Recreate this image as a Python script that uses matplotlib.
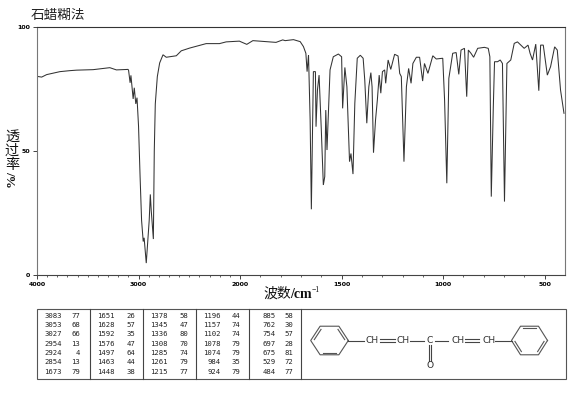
import numpy as np
import matplotlib
matplotlib.use("Agg")
import matplotlib.pyplot as plt
from matplotlib.patches import Rectangle

CJK = ["Noto Sans CJK SC", "DejaVu Sans"]

title = "石蜡糊法"
y_chars = ["透", "过", "率"]
x_ticks = [4000, 3000, 2000, 1500, 1000, 500]
y_ticks = [0, 50, 100]

wavenumber = [4000,3954,3905,3774,3676,3610,3447,3283,3218,3103,3098,3083,3075,3053,3042,3027,3015,3000,2985,2970,
 2954,2945,2924,2908,2895,2884,2875,2854,2845,2835,2815,2792,2759,2727,2628,2579,2497,2399,2334,2203,2137,2007,
 1967,1937,1872,1823,1790,1778,1737,1704,1688,1676,1670,1663,1655,1649,1639,1629,1626,1619,1611,1600,1590,1583,
 1578,1572,1557,1541,1516,1500,1495,1484,1474,1461,1454,1444,1435,1423,1408,1394,1386,1376,1366,1356,1350,1343,
 1333,1324,1315,1307,1299,1288,1283,1271,1258,1239,1222,1214,1206,1193,1181,1170,1158,1149,1132,1116,1101,1092,
 1075,1051,1034,1002,993,982,972,953,936,923,912,895,884,876,863,850,830,797,778,770,763,753,747,732,719,708,698,
 686,667,650,634,601,582,572,560,544,529,520,507,487,471,451,438,422,405]
transmittance = [80.1,79.8,80.8,82,82.4,82.6,82.8,83.6,82.7,82.9,82.5,77.5,80.5,71,75.5,69,71.5,60,40,22,
 13.5,15,4.8,14,22,32.5,26,14.5,50,69,80,85.5,88.8,87.8,88.4,90.4,91.5,92.6,93.3,93.3,94,94.3,
 93,94.5,94.1,93.8,94.8,94.5,94.9,94.1,92.1,89.4,82,88.7,62.5,26.5,82,82,59.8,74.6,80.6,58.5,36.3,39.7,
 66.5,50.4,82.7,88,89.1,88,67.2,83.7,75.9,45.7,49,40.7,69.2,87.4,88.6,87.4,78.6,61.2,75.9,81.6,75.9,49.3,
 62.5,70.6,80.6,73.3,82,82.7,77.3,86.7,82.9,89,88.3,81.3,80,45.7,75.9,83.3,77.3,85.3,87.8,87.8,78.2,85.3,
 81.3,88.4,87.1,87.4,70.6,37,79.3,89.4,89.7,80.9,90.7,91.4,71.9,90.7,89.4,87.8,91.4,91.8,91.4,88,31.6,67.9,86,86,86.7,85.3,29.6,
 85.3,86.7,93.4,94,91.4,92.7,89.4,86.7,93.1,74.3,92.7,92.7,80.6,84,92,90.7,74.6,65.2]

peak_wn = [[3083,3053,3027,2954,2924,2854,1673],
           [1651,1628,1592,1576,1497,1463,1448],
           [1378,1345,1336,1308,1285,1261,1215],
           [1196,1157,1102,1078,1074,984,924],
           [885,762,754,697,675,529,484]]
peak_t = [[77,68,66,13,4,13,79],
          [26,57,35,47,64,44,38],
          [58,47,80,70,74,79,77],
          [44,74,74,79,79,35,79],
          [58,30,57,28,81,72,77]]

W, H = 570, 394
fig = plt.figure(figsize=(W/100, H/100), dpi=100)
ax = fig.add_axes([37/W, 1-275/H, 528/W, 248/H])

def fwd(x):
    x = np.asarray(x, dtype=float)
    return np.where(x > 2000, 2000 + (x-2000)/2, x)
def inv(v):
    v = np.asarray(v, dtype=float)
    return np.where(v > 2000, 2000 + (v-2000)*2, v)
ax.set_xscale("function", functions=(fwd, inv))
ax.plot(wavenumber, transmittance, color="#333333", lw=0.75, solid_joinstyle="miter")
ax.set_xlim(4000, 400)
ax.set_ylim(0, 100)
ax.set_xticks(x_ticks)
ax.set_xticks(list(range(3900, 400, -100)), minor=True)
ax.set_yticks(y_ticks)
ax.tick_params(axis="both", which="major", length=3, width=0.6, labelsize=4.5, pad=2, color="#222222")
ax.tick_params(axis="x", which="minor", length=1.5, width=0.5, color="#222222")
for lab in ax.get_xticklabels()+ax.get_yticklabels():
    lab.set_fontweight("bold")
ax.spines["top"].set_color("#333333"); ax.spines["top"].set_linewidth(0.8)
ax.spines["bottom"].set_color("#444444"); ax.spines["bottom"].set_linewidth(0.8)
ax.spines["left"].set_color("#777777"); ax.spines["left"].set_linewidth(0.8)
ax.spines["right"].set_color("#777777"); ax.spines["right"].set_linewidth(0.8)

# page overlay in pixel coordinates, for labels, table and structure
pg = fig.add_axes([0, 0, 1, 1], facecolor="none")
pg.set_xlim(0, W); pg.set_ylim(H, 0); pg.axis("off")

pg.text(31, 15, title, family=CJK, fontsize=9.8, color="#222222", va="center", ha="left")
for ch, yp in zip(y_chars, [137, 151, 165]):
    pg.text(12, yp, ch, family=CJK, fontsize=10.2, fontweight="medium", color="#111111", ha="center", va="center")
pg.text(12, 179, "%/", rotation=90, family="Liberation Serif", fontsize=9.5, fontweight="bold", color="#111111", ha="center", va="center")
pg.text(263, 294, "波数", family=CJK, fontsize=10, fontweight="medium", color="#111111", ha="left", va="center")
pg.text(290, 294, "/cm", family="Liberation Serif", fontsize=10, fontweight="bold", color="#111111", ha="left", va="center")
pg.text(312, 290.5, "−1", family="Liberation Serif", fontsize=5.5, color="#111111", ha="left", va="center")

# table frame
pg.add_patch(Rectangle((36.5, 309), 529, 70, fill=False, ec="#555555", lw=0.8))
for xp in [89.5, 142.5, 195.5, 248.5, 301]:
    pg.plot([xp, xp], [309, 379], color="#444444", lw=0.8)
num_x = [62, 115, 168, 221, 276]
val_x = [80, 135, 188, 240, 293]
row_y = [315.7, 325, 334.4, 343.7, 353, 362.5, 372]
for c in range(5):
    for r in range(7):
        pg.text(num_x[c], row_y[r], str(peak_wn[c][r]), family="DejaVu Sans Mono", fontsize=5.2, color="#222222", ha="right", va="center")
        pg.text(val_x[c], row_y[r], str(peak_t[c][r]), family="DejaVu Sans Mono", fontsize=5.2, color="#222222", ha="right", va="center")

# structure
def ring(cx, cy, rx, ry, inner):
    ang = np.deg2rad(np.arange(0, 361, 60))
    xs = cx + rx*np.cos(ang); ys = cy + ry*np.sin(ang)
    pg.plot(xs, ys, color="#555555", lw=0.8)
    for i in inner:
        a0, a1 = ang[i], ang[i+1]
        k = 0.84
        xa, ya = cx + k*rx*np.cos(a0), cy + k*ry*np.sin(a0)
        xb, yb = cx + k*rx*np.cos(a1), cy + k*ry*np.sin(a1)
        xm, ym = (xa+xb)/2, (ya+yb)/2
        pg.plot([xa+(xm-xa)*.15, xb+(xm-xb)*.15], [ya+(ym-ya)*.15, yb+(ym-yb)*.15], color="#555555", lw=0.8)
ring(329.5, 340.5, 18.8, 16.5, [1, 3, 5])
ring(529.5, 340.5, 18.0, 16.5, [0, 2, 4])
def seg(x0, y0, x1, y1):
    pg.plot([x0, x1], [y0, y1], color="#444444", lw=0.8)
seg(348, 340.5, 364, 340.5)
seg(380, 339.3, 394.5, 339.3); seg(380, 341.7, 394.5, 341.7)
seg(410, 340.5, 424, 340.5)
seg(435, 340.5, 448, 340.5)
seg(465, 339.3, 479, 339.3); seg(465, 341.7, 479, 341.7)
seg(495, 340.5, 511.5, 340.5)
seg(428.5, 345, 428.5, 361); seg(431, 345, 431, 361)
for xp, s in [(372.5, "CH"), (403.5, "CH"), (430, "C"), (458.5, "CH"), (489.5, "CH"), (430, "O")]:
    yp = 366 if s == "O" else 340.5
    pg.text(xp, yp, s, family="DejaVu Sans", fontsize=6.6, color="#333333", ha="center", va="center")

fig.savefig("out.png", dpi=100, facecolor="white")
